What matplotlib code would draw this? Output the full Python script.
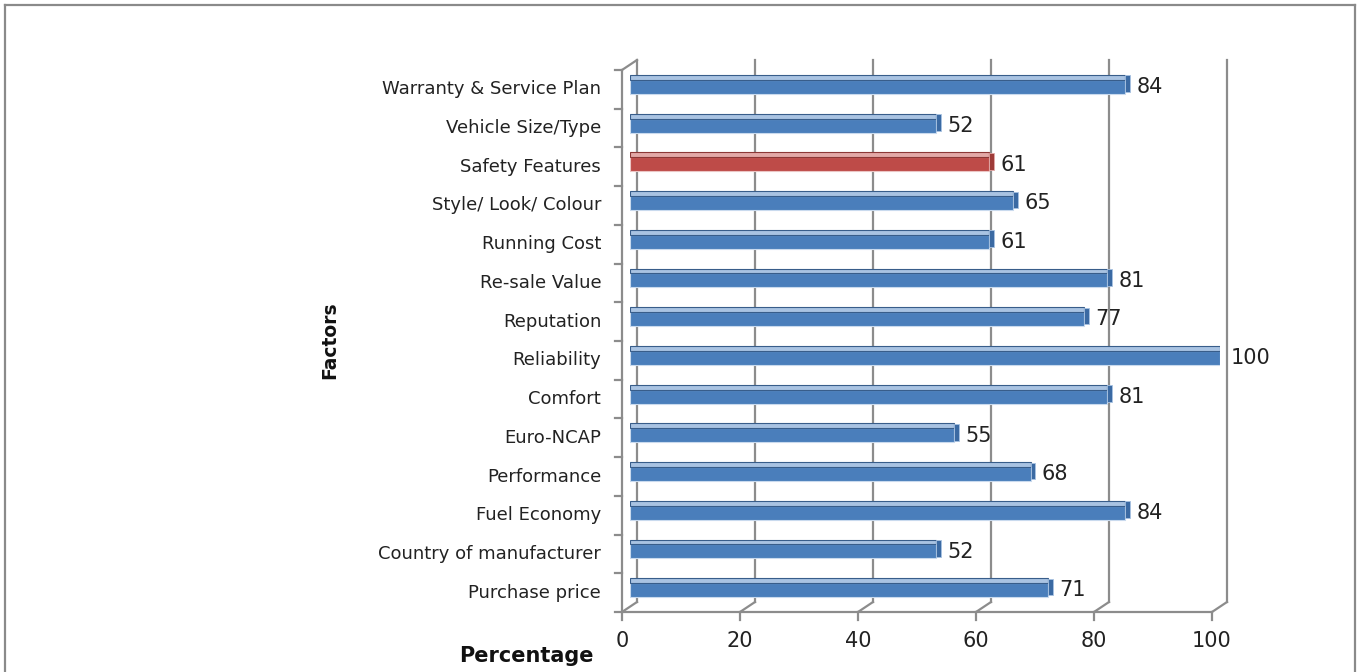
import matplotlib.pyplot as plt
from matplotlib.lines import Line2D

# survey results: share of buyers rating each factor as important
factors = ["Purchase price", "Country of manufacturer", "Fuel Economy", "Performance",
           "Euro-NCAP", "Comfort", "Reliability", "Reputation", "Re-sale Value",
           "Running Cost", "Style/ Look/ Colour", "Safety Features",
           "Vehicle Size/Type", "Warranty & Service Plan"]
percent = [71, 52, 84, 68, 55, 81, 100, 77, 81, 61, 65, 61, 52, 84]
highlight = "Safety Features"
xticks = [0, 20, 40, 60, 80, 100]

W, H = 1358, 672
fig = plt.figure(figsize=(W / 100, H / 100), dpi=100)
plt.rcParams['font.family'] = ['DejaVu Sans']

# axes spans the mid-depth plane of the fake 3d box
x0, x1 = 629.5, 1219.5
y_top, y_bot = 65, 607
ax = fig.add_axes([x0 / W, 1 - y_bot / H, (x1 - x0) / W, (y_bot - y_top) / H])
n = len(factors)
ax.set_xlim(0, 100)
ax.set_ylim(-0.5, n - 0.5)
ax.axis("off")

# depth offset of front / back planes in data units (7.5px, 5px)
DX = 7.5 / ((x1 - x0) / 100)
DY = 5 / ((y_bot - y_top) / n)
grid_c = "#8c8c8c"
lw = 1.6
ylo, yhi = -0.5, n - 0.5

# back wall verticals + floor diagonals
for t in xticks:
    ax.plot([t + DX, t + DX], [ylo + DY, yhi + DY], color=grid_c, lw=lw, zorder=1, clip_on=False)
    ax.plot([t - DX, t + DX], [ylo - DY, ylo + DY], color=grid_c, lw=lw, zorder=1, clip_on=False)
    # tick below front axis
    ax.plot([t - DX, t - DX], [ylo - DY, ylo - DY - 0.2], color=grid_c, lw=lw, clip_on=False)
    ax.annotate(str(t), (t - DX, ylo - DY), xytext=(0, -21), textcoords="offset points",
                ha="center", va="center", fontsize=15, color="#222222", annotation_clip=False)

# left wall and front floor edge
ax.plot([-DX, -DX], [ylo - DY, yhi - DY], color=grid_c, lw=lw, clip_on=False)
ax.plot([-DX, DX], [yhi - DY, yhi + DY], color=grid_c, lw=lw, clip_on=False)
ax.plot([-DX, 100 - DX], [ylo - DY, ylo - DY], color=grid_c, lw=lw, clip_on=False)
for k in range(n + 1):
    yy = ylo + k - DY
    ax.plot([-DX - 1.2, -DX], [yy, yy], color=grid_c, lw=lw, clip_on=False)

# bars: front face, lighter top face and small end face
for i, (name, v) in enumerate(zip(factors, percent)):
    if name == highlight:
        face, top, edge, cap = "#BE4B48", "#E3A9A7", "#8C3836", "#9E3B38"
    else:
        face, top, edge, cap = "#4A7EBB", "#A9C3E2", "#385D8A", "#3B6AA3"
    ax.barh(i - 0.245, v, height=0.36, align="edge", color=face,
            edgecolor="#C9DAEE" if face == "#4A7EBB" else "#EBC5C4", linewidth=0.8, zorder=3)
    ax.barh(i + 0.115, v, height=0.125, align="edge", color=top,
            edgecolor=edge, linewidth=0.8, zorder=3)
    ax.barh(i - 0.2, 0.8, left=v, height=0.43, align="edge", color=cap,
            edgecolor=top, linewidth=0.6, zorder=4)
    ax.annotate(str(v), (v, i), xytext=(8, -2), textcoords="offset points",
                ha="left", va="center", fontsize=15, color="#222222", zorder=5)
    ax.annotate(name, (-DX, i - DY), xytext=(-15, 0), textcoords="offset points",
                ha="right", va="center", fontsize=13, color="#222222", annotation_clip=False)

# axis titles
fig.text(526 / W, 1 - 656 / H, "Percentage", ha="center", va="center",
         fontsize=15, fontweight="bold", color="#111111")
fig.text(330 / W, 1 - 340 / H, "Factors", ha="center", va="center", rotation=90,
         fontsize=13.5, fontweight="bold", color="#111111")

# outer chart border (open at the bottom)
for xs, ys in [([5, 5], [5, H + 5]), ([5, 1355], [5, 5]), ([1355, 1355], [5, H + 5])]:
    fig.add_artist(Line2D([x / W for x in xs], [1 - y / H for y in ys],
                          color="#8a8a8a", lw=1.6, transform=fig.transFigure))

fig.savefig("out.png", dpi=100)
